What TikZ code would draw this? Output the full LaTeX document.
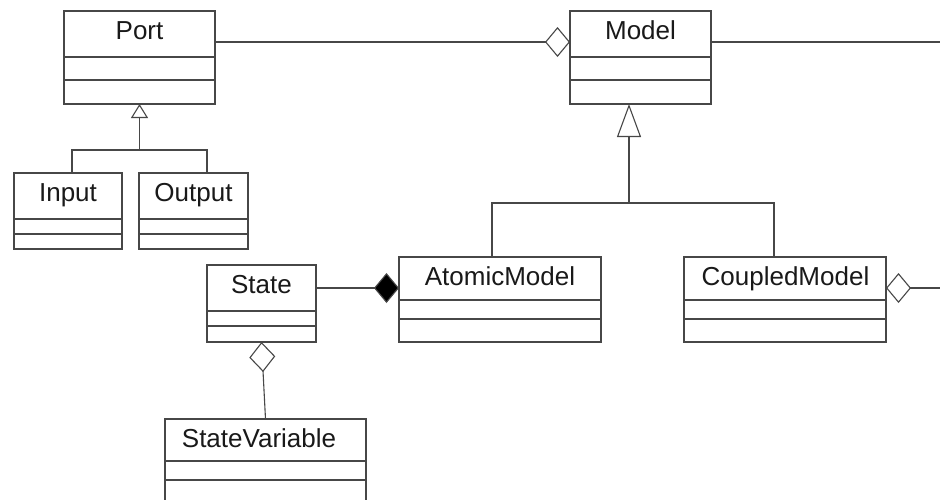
\documentclass[tikz,border=0pt]{standalone}
\usepackage{fontspec}
\setmainfont{Liberation Sans}
\usetikzlibrary{arrows.meta,calc}

\tikzset{
  ln/.style={draw=black!72, line width=1.1pt},
  cls/.style={ln, rectangle, inner sep=0pt, outer sep=0pt, fill=white},
  lbl/.style={inner sep=0pt, text=black!90, font=\fontsize{26}{30}\selectfont},
  aggr/.style={ln, -{Diamond[open, length=25pt, width=30pt, line width=1.1pt]}},
  aggrup/.style={ln, -{Diamond[open, length=30pt, width=26pt, line width=1.1pt]}},
  compo/.style={ln, -{Diamond[length=25pt, width=30pt, fill=black]}},
  genbig/.style={ln, -{Triangle[open, length=33pt, width=24pt, line width=1.1pt]}},
  gensmall/.style={ln, -{Triangle[open, length=14pt, width=17pt, line width=1.1pt]}},
}

% class box: name, x1, y1, x2, y2, divider 1, divider 2, title, title x
\newcommand\umlclass[9]{%
  \node[cls, minimum width={#4pt-#2pt}, minimum height={#5pt-#3pt}]
    (#1) at ({(#2+#4)/2},{(#3+#5)/2}) {};
  \draw[ln] (#2,#6) -- (#4,#6);
  \draw[ln] (#2,#7) -- (#4,#7);
  \node[lbl, anchor=base] (#1-title) at (#9,{#3+28}) {#8};
}

\begin{document}
\begin{tikzpicture}[x=1pt, y=-1pt]
  \useasboundingbox (0,0) rectangle (940,499);
  \fill[white] (0,0) rectangle (940,499);
  \clip (0,0) rectangle (940,499);

  % classes
  \umlclass{port}{64}{11}{215}{104}{57}{80}{Port}{139.5}
  \umlclass{model}{570}{11}{711}{104}{57}{80}{Model}{640.5}
  \umlclass{input}{14}{173}{122}{249}{219}{234}{Input}{68}
  \umlclass{output}{139}{173}{248}{249}{219}{234}{Output}{193.5}
  \umlclass{state}{207}{265}{316}{342}{311}{326}{State}{261.5}
  \umlclass{atomic}{399}{257}{601}{342}{300}{319}{AtomicModel}{500}
  \umlclass{coupled}{684}{257}{886}{342}{300}{319}{CoupledModel}{785.5}
  \umlclass{statevar}{165}{419}{366}{520}{461}{480}{StateVariable}{259}

  % free ends and junctions
  \coordinate (modelout) at (940,42);
  \coordinate (coupledout) at (940,288);
  \coordinate (mj) at (629,203);
  \coordinate (pj) at (139.5,150);

  % Port -- Model aggregation
  \draw[aggr] ($(port.north east)+(0,31)$) -- ($(model.north west)+(0,31)$);
  \draw[ln] ($(model.north east)+(0,31)$) -- (modelout);

  % Model generalisation
  \draw[ln] ($(atomic.north west)+(93,0)$) |- (mj) -| ($(coupled.north west)+(90,0)$);
  \draw[genbig] (mj) -- (mj |- model.south);

  % Port generalisation
  \draw[ln] ($(input.north west)+(58,0)$) |- (pj) -| ($(output.north west)+(68,0)$);
  \draw[gensmall] (pj) -- (port.south);

  % State composition in AtomicModel
  \draw[compo] ($(state.north east)+(0,23)$) -- ($(atomic.north west)+(0,31)$);

  % CoupledModel aggregation
  \draw[aggr] (coupledout) -- ($(coupled.north east)+(0,31)$);

  % StateVariable aggregation in State
  \draw[aggrup] (statevar.north) -- (state.south);
\end{tikzpicture}
\end{document}
